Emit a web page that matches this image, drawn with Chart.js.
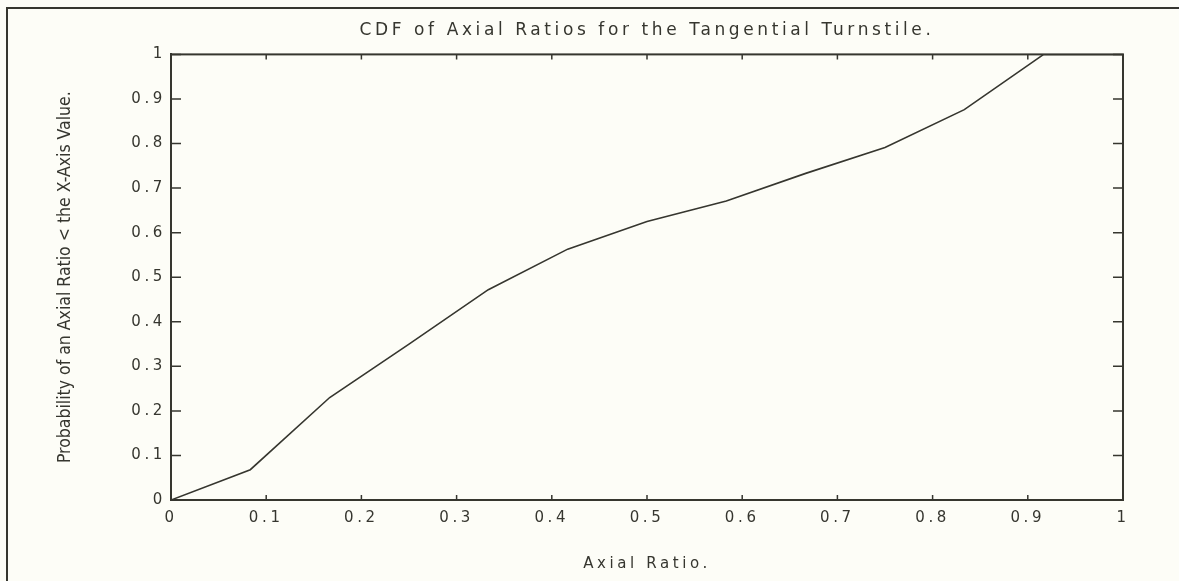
<!DOCTYPE html>
<html>
<head>
<meta charset="utf-8">
<script src="https://cdn.jsdelivr.net/npm/chart.js@4/dist/chart.umd.min.js"></script>
<style>
  html, body { margin: 0; padding: 0; background: #fdfdf7; }
  #wrap { width: 1179px; height: 581px; position: relative; }
  canvas { display: block; }
</style>
</head>
<body>
<div id="wrap"><canvas id="c" width="1179" height="581"></canvas></div>
<script>
const xValues = [0, 0.0833, 0.1667, 0.25, 0.3333, 0.4167, 0.5, 0.5833, 0.6667, 0.75, 0.8333, 0.9167, 1];
const cdfValues = [0, 0.068, 0.23, 0.35, 0.472, 0.563, 0.625, 0.671, 0.733, 0.791, 0.876, 1.0, 1.0];
const xTickLabels = ['0', '0.1', '0.2', '0.3', '0.4', '0.5', '0.6', '0.7', '0.8', '0.9', '1'];
const yTickLabels = ['0', '0.1', '0.2', '0.3', '0.4', '0.5', '0.6', '0.7', '0.8', '0.9', '1'];
const titleText = 'CDF of Axial Ratios for the Tangential Turnstile.';
const xTitleText = 'Axial Ratio.';
const yTitleText = 'Probability of an Axial Ratio < the X-Axis Value.';

const ink = '#36362f';
const SPACING = '3.6px';
const points = xValues.map((x, i) => ({ x: x, y: cdfValues[i] }));

const framePlugin = {
  id: 'frame',
  beforeDraw(chart) {
    const ctx = chart.ctx;
    ctx.save();
    ctx.strokeStyle = ink;
    ctx.lineWidth = 2;
    ctx.beginPath();
    ctx.moveTo(7, 581);
    ctx.lineTo(7, 8);
    ctx.lineTo(1179, 8);
    ctx.stroke();
    ctx.restore();
  }
};

const frameTicks = {
  id: 'frameTicks',
  afterDatasetsDraw(chart) {
    const { ctx, chartArea: a, scales } = chart;
    ctx.save();
    ctx.strokeStyle = ink;
    ctx.lineWidth = 2;
    ctx.strokeRect(a.left, a.top, a.right - a.left, a.bottom - a.top);
    ctx.lineWidth = 1.5;
    ctx.beginPath();
    scales.x.ticks.forEach((t, i) => {
      const px = scales.x.getPixelForTick(i);
      ctx.moveTo(px, a.bottom); ctx.lineTo(px, a.bottom - 5);
      ctx.moveTo(px, a.top); ctx.lineTo(px, a.top + 5);
    });
    scales.y.ticks.forEach((t, i) => {
      const py = scales.y.getPixelForTick(i);
      ctx.moveTo(a.left, py); ctx.lineTo(a.left + 10, py);
      ctx.moveTo(a.right, py); ctx.lineTo(a.right - 10, py);
    });
    ctx.stroke();
    ctx.restore();
  }
};

// wide plotter-like spacing for all text except the condensed y-axis title
const letterSpace = {
  id: 'letterSpace',
  beforeInit(chart) { chart.ctx.letterSpacing = SPACING; },
  beforeUpdate(chart) { chart.ctx.letterSpacing = SPACING; },
  afterUpdate(chart) {
    const ys = chart.scales.y;
    if (ys && !ys._wrappedTitle) {
      const orig = ys.drawTitle.bind(ys);
      ys.drawTitle = function () {
        const ctx = chart.ctx;
        const prev = ctx.letterSpacing;
        ctx.letterSpacing = '0px';
        orig();
        ctx.letterSpacing = prev;
      };
      ys._wrappedTitle = true;
    }
  },
  beforeDraw(chart) { chart.ctx.letterSpacing = SPACING; }
};

new Chart(document.getElementById('c'), {
  type: 'line',
  data: {
    datasets: [{
      data: points,
      borderColor: ink,
      borderWidth: 1.6,
      pointRadius: 0,
      tension: 0,
      fill: false
    }]
  },
  plugins: [letterSpace, framePlugin, frameTicks],
  options: {
    responsive: false,
    animation: false,
    devicePixelRatio: 1,
    layout: { padding: { left: 53, right: 56, top: 0, bottom: 0 } },
    plugins: {
      legend: { display: false },
      tooltip: { enabled: false },
      title: {
        display: true,
        fullSize: false,
        text: titleText,
        color: ink,
        font: { family: 'DejaVu Sans', size: 17, weight: 'normal' },
        padding: { top: 20, bottom: 14 }
      }
    },
    scales: {
      x: {
        type: 'linear',
        min: 0, max: 1,
        afterFit(s) { s.height = 81; },
        border: { display: true, color: ink, width: 2 },
        grid: { display: true, drawOnChartArea: false, drawTicks: false },
        ticks: {
          stepSize: 0.1,
          color: ink,
          padding: 9,
          maxRotation: 0,
          font: { family: 'DejaVu Sans', size: 15 },
          callback: (v, i) => xTickLabels[i]
        },
        title: {
          display: true,
          text: xTitleText,
          color: ink,
          font: { family: 'DejaVu Sans', size: 15 },
          padding: { top: 16, bottom: 8 }
        }
      },
      y: {
        type: 'linear',
        min: 0, max: 1,
        afterFit(s) { s.width = 118; },
        border: { display: true, color: ink, width: 2 },
        grid: { display: true, drawOnChartArea: false, drawTicks: false },
        ticks: {
          stepSize: 0.1,
          color: ink,
          padding: 5,
          font: { family: 'DejaVu Sans', size: 15 },
          callback: (v, i) => yTickLabels[i]
        },
        title: {
          display: true,
          text: yTitleText,
          color: ink,
          font: { family: "'Liberation Sans Narrow', 'DejaVu Sans Condensed', 'DejaVu Sans', sans-serif", size: 17.5, weight: 'condensed' },
          padding: { top: 2, bottom: 2 }
        }
      }
    }
  }
});
</script>
</body>
</html>
